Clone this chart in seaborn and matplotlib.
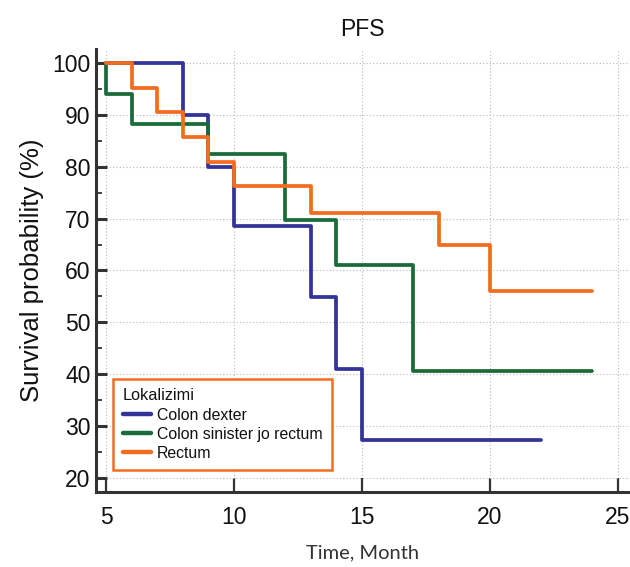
import matplotlib
matplotlib.use("Agg")
import matplotlib.pyplot as plt
import seaborn as sns
import pandas as pd
from matplotlib.ticker import MultipleLocator, FixedLocator

# Data (Kaplan-Meier step curves)
dexter_t = [5, 8, 9, 10, 13, 14, 15, 22]
dexter_s = [100, 90, 80, 68.6, 54.9, 41.1, 27.4, 27.4]
sinister_t = [5, 5, 6, 9, 12, 14, 17, 24]
sinister_s = [100, 94.1, 88.2, 82.4, 69.8, 61.0, 40.7, 40.7]
rectum_t = [5, 6, 7, 8, 9, 10, 13, 18, 20, 24]
rectum_s = [100, 95.2, 90.5, 85.7, 81.0, 76.2, 71.1, 65.0, 56.1, 56.1]
groups = ["Colon dexter", "Colon sinister jo rectum", "Rectum"]
colors = ["#333399", "#1b6b3a", "#f36d21"]
x_ticks = [5, 10, 15, 20, 25]
y_ticks = [20, 30, 40, 50, 60, 70, 80, 90, 100]

df = pd.concat([
    pd.DataFrame({"t": dexter_t, "s": dexter_s, "g": groups[0]}),
    pd.DataFrame({"t": sinister_t, "s": sinister_s, "g": groups[1]}),
    pd.DataFrame({"t": rectum_t, "s": rectum_s, "g": groups[2]}),
], ignore_index=True)

sns.set_style("white")
plt.rcParams["font.family"] = ["Liberation Sans", "DejaVu Sans"]
plt.rcParams["text.color"] = "#111111"
plt.rcParams["xtick.labelcolor"] = "#111111"
plt.rcParams["ytick.labelcolor"] = "#111111"

fig = plt.figure(figsize=(6.3, 5.67), dpi=100)
ax = fig.add_axes([0.1516, 0.1323, 0.8484, 0.7813])

sns.lineplot(data=df, x="t", y="s", hue="g", hue_order=groups,
             palette=dict(zip(groups, colors)), estimator=None, sort=False,
             drawstyle="steps-post", linewidth=2.7, ax=ax, legend=True,
             zorder=3)

ax.set_xlim(4.59, 25.47)
ax.set_ylim(17.3, 102.7)
ax.xaxis.set_major_locator(FixedLocator(x_ticks))
ax.yaxis.set_major_locator(FixedLocator(y_ticks))
ax.yaxis.set_minor_locator(MultipleLocator(5))

for side in ["top", "right"]:
    ax.spines[side].set_visible(False)
for side in ["left", "bottom"]:
    ax.spines[side].set_color("#333333")
    ax.spines[side].set_linewidth(2.2)

ax.tick_params(axis="y", which="major", direction="in", length=8, width=2.2,
               color="#333333", labelsize=16.5, pad=3.5, left=True)
ax.tick_params(axis="y", which="minor", direction="in", length=4.5, width=1.3,
               color="#333333", left=True)
ax.tick_params(axis="x", which="major", direction="in", length=10, width=1.6,
               color="#333333", labelsize=16.5, pad=10, bottom=True)

ax.grid(True, which="major", linestyle=(0, (1, 2)), color="#b8b8b8", linewidth=0.8)
ax.set_axisbelow(True)

ax.set_title("PFS", fontsize=16.5, pad=9, color="#111111")
ax.set_ylabel("Survival probability (%)", fontsize=18.5, labelpad=6,
              color="#111111")
ax.set_xlabel("Time, Month", fontsize=14.5, family=["Lato", "DejaVu Sans"],
              color="#333333", labelpad=11)

handles, labels = ax.get_legend_handles_labels()
leg = ax.legend(handles, labels, title="Lokalizimi", loc="lower left",
                bbox_to_anchor=(0.033, 0.049), borderaxespad=0,
                fontsize=11.4, title_fontsize=11.7, frameon=True,
                fancybox=False, edgecolor="#f36d21", handlelength=1.8,
                handletextpad=0.35, labelspacing=0.26, borderpad=0.6,
                alignment="left")
leg.get_frame().set_linewidth(1.8)
leg.get_frame().set_alpha(1)
for h in leg.get_lines():
    h.set_linewidth(3.2)

fig.savefig("out.png", dpi=100)
